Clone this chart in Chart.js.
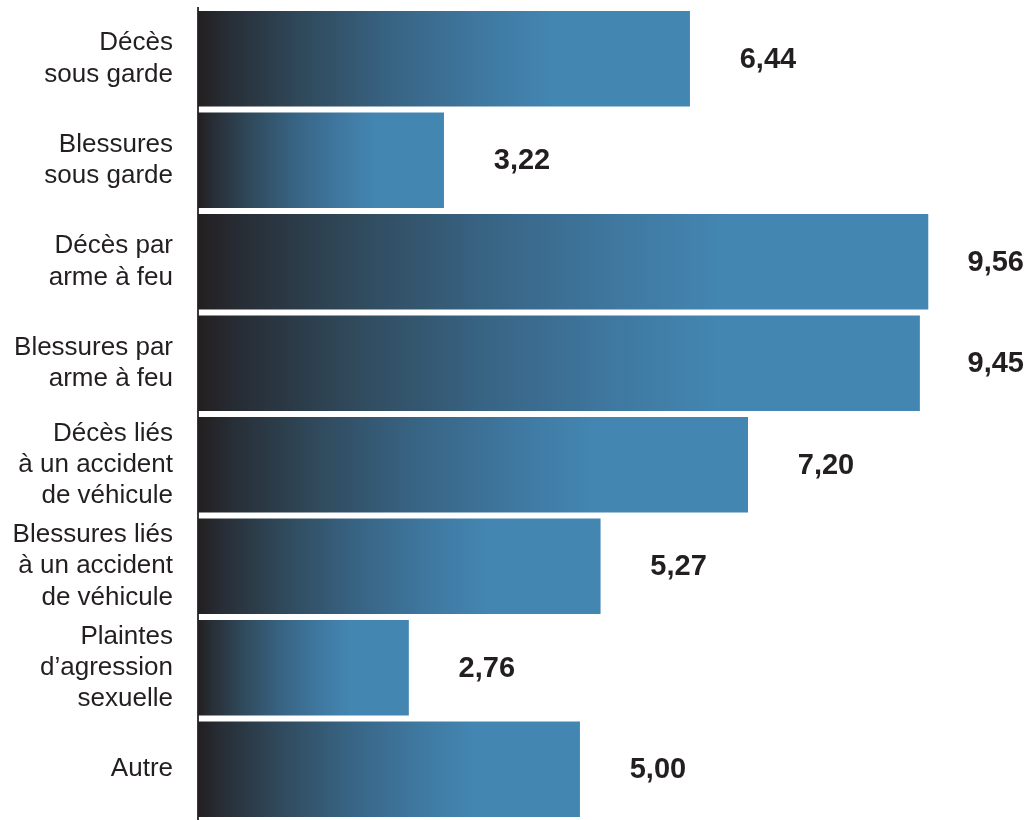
<!DOCTYPE html>
<html lang="fr">
<head>
    <meta charset="UTF-8">
    <title>Enquêtes par type d'incident</title>
    <script src="https://cdn.jsdelivr.net/npm/chart.js"></script>
    <style>
        html, body { margin: 0; padding: 0; background: #fff; }
        #wrap { width: 1028px; height: 820px; }
    </style>
</head>
<body>

<div id="wrap">
    <canvas id="barChart" width="1028" height="820"></canvas>
</div>

<script>
    // Catégories (une ligne par élément du tableau)
    const categories = [
        ['Décès', 'sous garde'],
        ['Blessures', 'sous garde'],
        ['Décès par', 'arme à feu'],
        ['Blessures par', 'arme à feu'],
        ['Décès liés', 'à un accident', 'de véhicule'],
        ['Blessures liés', 'à un accident', 'de véhicule'],
        ['Plaintes', 'd\u2019agression', 'sexuelle'],
        ['Autre']
    ];
    const values = [6.44, 3.22, 9.56, 9.45, 7.20, 5.27, 2.76, 5.00];
    const valueLabels = ['6,44', '3,22', '9,56', '9,45', '7,20', '5,27', '2,76', '5,00'];

    const textColor = '#231f20';

    // dégradé horizontal propre à chaque barre : sombre à gauche, bleu vers 70 % de la longueur
    function barGradient(ctx) {
        const chart = ctx.chart;
        const xs = chart.scales.x;
        if (!xs || !chart.chartArea) return '#4386b2';
        const x0 = xs.getPixelForValue(0);
        const x1 = xs.getPixelForValue(values[ctx.dataIndex]);
        const g = chart.ctx.createLinearGradient(x0, 0, x0 + (x1 - x0) * 0.72, 0);
        g.addColorStop(0, '#231f20');
        g.addColorStop(0.08, '#272d35');
        g.addColorStop(0.3, '#304a5c');
        g.addColorStop(0.55, '#386484');
        g.addColorStop(0.8, '#3f78a0');
        g.addColorStop(1, '#4386b2');
        return g;
    }

    // valeurs écrites à droite des barres
    const valueLabelPlugin = {
        id: 'valueLabels',
        afterDatasetsDraw(chart) {
            const ctx = chart.ctx;
            const meta = chart.getDatasetMeta(0);
            ctx.save();
            ctx.font = 'bold 29px "Liberation Sans", Arial, sans-serif';
            ctx.fillStyle = textColor;
            ctx.textAlign = 'center';
            ctx.textBaseline = 'middle';
            meta.data.forEach((bar, i) => {
                const w = ctx.measureText(valueLabels[i]).width;
                let cx = bar.x + 78;
                cx = Math.min(cx, chart.width - 4 - w / 2);
                ctx.fillText(valueLabels[i], cx, bar.y + 1);
            });
            ctx.restore();
        }
    };

    new Chart(document.getElementById('barChart'), {
        type: 'bar',
        data: {
            labels: categories,
            datasets: [{
                data: values,
                backgroundColor: barGradient,
                borderWidth: 0,
                categoryPercentage: 1,
                barPercentage: 0.94
            }]
        },
        options: {
            indexAxis: 'y',
            responsive: false,
            animation: false,
            events: [],
            layout: { padding: { top: 8, right: 5, bottom: 0, left: 0 } },
            plugins: {
                legend: { display: false },
                tooltip: { enabled: false }
            },
            scales: {
                x: {
                    display: false,
                    min: 0,
                    max: 10.8
                },
                y: {
                    afterFit(scale) {
                        scale.width = 198;
                        scale.paddingTop = 0;
                        scale.paddingBottom = 0;
                    },
                    grid: { display: false, drawTicks: false },
                    border: { display: true, color: '#3a3a3a', width: 2 },
                    ticks: {
                        padding: 25,
                        color: textColor,
                        font: { family: '"Liberation Sans", Arial, sans-serif', size: 26, lineHeight: 1.2 }
                    }
                }
            }
        },
        plugins: [valueLabelPlugin]
    });
</script>

</body>
</html>
